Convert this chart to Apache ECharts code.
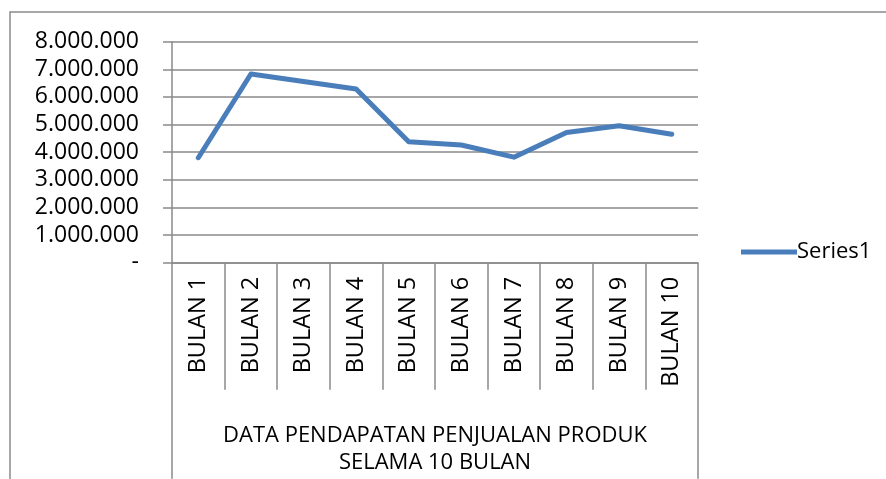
<!DOCTYPE html>
<html>
<head>
<meta charset="utf-8">
<script src="https://cdn.jsdelivr.net/npm/echarts@6/dist/echarts.min.js"></script>
<style>html,body{margin:0;padding:0;background:#fff}#c{width:886px;height:479px}</style>
</head>
<body>
<div id="c"></div>
<script>
const categories = ['BULAN 1','BULAN 2','BULAN 3','BULAN 4','BULAN 5','BULAN 6','BULAN 7','BULAN 8','BULAN 9','BULAN 10'];
const groupLabel = ['DATA PENDAPATAN PENJUALAN PRODUK\nSELAMA 10 BULAN'];
const seriesName = 'Series1';
const values = [3800000, 6830000, 6560000, 6290000, 4380000, 4260000, 3820000, 4710000, 4960000, 4650000];
const yTicks = [0, 1000000, 2000000, 3000000, 4000000, 5000000, 6000000, 7000000, 8000000];

const gray = '#8a8a8a';
const font = 'Open Sans';
function fmt(v){
  if (v === 0) return '-';
  return String(Math.round(v)).replace(/\B(?=(\d{3})+(?!\d))/g, '.');
}
const chart = echarts.init(document.getElementById('c'));
chart.setOption({
  animation: false,
  backgroundColor: '#fff',
  textStyle: {fontFamily: font},
  graphic: [{
    type: 'rect', shape: {x: 10, y: 12, width: 900, height: 500},
    style: {fill: 'none', stroke: gray, lineWidth: 1.5}, silent: true
  }],
  grid: {left: 172, right: 188, top: 41.7, bottom: 216.3, outerBoundsMode: 'none', containLabel: false},
  legend: {
    data: [seriesName], left: 736, top: 236, icon: 'rect', itemWidth: 56, itemHeight: 5,
    itemGap: 0,
    textStyle: {fontFamily: font, fontSize: 22, color: '#000', padding: [0,0,0,-5]}
  },
  xAxis: [{
    type: 'category', data: categories, boundaryGap: true, position: 'bottom',
    axisLine: {show: true, lineStyle: {color: gray, width: 1.5}},
    axisTick: {show: true, interval: 0, length: 127, lineStyle: {color: gray, width: 1.5}},
    axisLabel: {interval: 0, rotate: 90, margin: 14, fontFamily: font, fontSize: 23.5, color: '#000'},
    splitLine: {show: false}
  }, {
    type: 'category', data: groupLabel, boundaryGap: true, position: 'bottom',
    axisLine: {show: false},
    axisTick: {show: true, interval: 0, length: 216, lineStyle: {color: gray, width: 1.5}},
    axisLabel: {interval: 0, margin: 160, fontFamily: font, fontSize: 22, lineHeight: 27, color: '#000', align: 'center'},
    splitLine: {show: false}
  }],
  yAxis: {
    type: 'value', min: 0, max: 8000000, interval: 1000000,
    axisLine: {show: true, lineStyle: {color: gray, width: 1.5}},
    axisTick: {show: true, length: 9, lineStyle: {color: gray, width: 1.5}},
    splitLine: {show: true, lineStyle: {color: gray, width: 1.5}},
    axisLabel: {margin: 33, fontFamily: font, fontSize: 23, color: '#000',
      formatter: function(v){ return yTicks.indexOf(v) >= 0 ? fmt(v) : ''; }}
  },
  series: [{
    name: seriesName, type: 'line', data: values, xAxisIndex: 0,
    showSymbol: false, symbol: 'none',
    itemStyle: {color: '#4a7ebb'},
    lineStyle: {color: '#4a7ebb', width: 5, cap: 'round', join: 'round'}
  }]
});
</script>
</body>
</html>
